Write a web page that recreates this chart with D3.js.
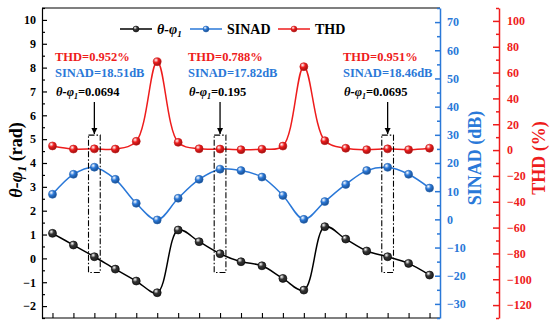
<!DOCTYPE html>
<head>
    <meta charset=utf-8>
    <title>theta-phi SINAD THD</title>
    <script src="https://d3js.org/d3.v7.min.js"></script>
    <style>
        body { margin: 0; background: #fff; }
        text { font-family: "Liberation Serif", "Times New Roman", serif; font-weight: bold; }
        .tick text { font-size: 12px; }
    </style>
</head>
<body>
    <div id="chart"></div>
    <script type="text/javascript">
        // data (index 0..18)
        var idx = d3.range(19);
        var phase = [1.05, 0.56, 0.0694, -0.45, -0.95, -1.44, 1.19, 0.70, 0.195, -0.14, -0.31, -0.84, -1.33, 1.33, 0.81, 0.31, 0.0695, -0.21, -0.70];
        var sinad = [8.9, 16.0, 18.51, 14.2, 5.7, -0.2, 7.5, 14.2, 17.82, 17.3, 15.0, 8.5, 0.0, 6.3, 12.4, 17.3, 18.46, 16.0, 11.1];
        var thd = [3.2, 0.8, 0.952, 0.8, 6.8, 68.4, 6.0, 1.0, 0.788, 0.3, 0.7, 3.1, 64.6, 7.3, 1.4, 0.3, 0.951, 0.3, 1.5];

        var leftTicks = d3.range(-2, 11, 1),
            sinadTicks = d3.range(-30, 71, 10),
            thdTicks = d3.range(-120, 101, 20);

        // highlighted points + their labels
        var marked = [2, 8, 16];
        var notes = [
            {thd: "THD=0.952%", sinad: "SINAD=18.51dB", ph: "=0.0694", x: 55},
            {thd: "THD=0.788%", sinad: "SINAD=17.82dB", ph: "=0.195", x: 188},
            {thd: "THD=0.951%", sinad: "SINAD=18.46dB", ph: "=0.0695", x: 343}
        ];

        var red = "#ee1c1c", blue = "#2a78d8";
        var W = 550, H = 326;
        var L = 42, R = 440, T = 8, B = 318;

        var x = d3.scaleLinear().domain([-0.5, 18.5]).range([L, R]),
            yL = d3.scaleLinear().domain([-2.5, 10.5]).range([B, T]),
            yS = d3.scaleLinear().domain([-35, 75]).range([B, T]),
            yT = d3.scaleLinear().domain([-130, 110]).range([B, T]);

        var svg = d3.select("#chart").append("svg")
            .attr("width", W).attr("height", H);

        var defs = svg.append("defs");
        function grad(id, c) {
            var g = defs.append("radialGradient").attr("id", id)
                .attr("cx", "35%").attr("cy", "30%").attr("r", "70%");
            g.append("stop").attr("offset", "0%").attr("stop-color", "#fff");
            g.append("stop").attr("offset", "45%").attr("stop-color", c);
            g.append("stop").attr("offset", "100%").attr("stop-color", d3.color(c).darker(1.2));
        }
        grad("gk", "#333");
        grad("gb", blue);
        grad("gr", red);
        defs.append("marker").attr("id", "arr")
            .attr("viewBox", "0 0 10 10").attr("refX", 10).attr("refY", 5)
            .attr("markerWidth", 6).attr("markerHeight", 7).attr("orient", "auto")
            .attr("markerUnits", "userSpaceOnUse")
            .append("path").attr("d", "M0,0L10,5L0,10z").attr("fill", "#000");

        // frame
        svg.append("line").attr("x1", L).attr("x2", R).attr("y1", T).attr("y2", T).attr("stroke", "#000").attr("stroke-width", 1.2);
        svg.append("line").attr("x1", L).attr("x2", R).attr("y1", B).attr("y2", B).attr("stroke", "#000").attr("stroke-width", 1.2);

        // x ticks (inward, no labels)
        svg.append("g").attr("transform", "translate(0," + B + ")")
            .call(d3.axisBottom(x).tickValues(idx).tickSize(-5).tickSizeOuter(0).tickFormat(""))
            .call(g => g.select(".domain").remove())
            .selectAll("line").attr("stroke-width", 1.1);

        // left axis
        var gl = svg.append("g").attr("transform", "translate(" + L + ",0)");
        gl.call(d3.axisLeft(yL).tickValues(leftTicks).tickSize(-5).tickSizeOuter(0).tickPadding(6));
        gl.append("g").call(d3.axisLeft(yL).tickValues(d3.range(-2.5, 10.6, 1)).tickSize(-3).tickFormat(""))
            .select(".domain").remove();
        gl.selectAll("path, line").attr("stroke", "#000").attr("stroke-width", 1.2);
        gl.selectAll("text").attr("fill", "#000");

        // SINAD axis
        var gs = svg.append("g").attr("transform", "translate(" + R + ",0)");
        gs.call(d3.axisRight(yS).tickValues(sinadTicks).tickSize(-5).tickSizeOuter(0).tickPadding(7));
        gs.append("g").call(d3.axisRight(yS).tickValues(d3.range(-35, 76, 10)).tickSize(-3).tickFormat(""))
            .select(".domain").remove();
        gs.selectAll("path, line").attr("stroke", blue).attr("stroke-width", 1.5);
        gs.selectAll("text").attr("fill", blue);

        // THD axis
        var gt = svg.append("g").attr("transform", "translate(499,0)");
        gt.call(d3.axisRight(yT).tickValues(thdTicks).tickSize(-6).tickSizeOuter(0).tickPadding(8));
        gt.append("g").call(d3.axisRight(yT).tickValues(d3.range(-130, 111, 20)).tickSize(-3).tickFormat(""))
            .select(".domain").remove();
        gt.selectAll("path, line").attr("stroke", red).attr("stroke-width", 1.5);
        gt.selectAll("text").attr("fill", red);

        // axis titles
        var tl = svg.append("text").attr("transform", "translate(22,160) rotate(-90)")
            .attr("text-anchor", "middle").attr("font-size", 18).attr("fill", "#000");
        tl.append("tspan").attr("font-style", "italic").text("\u03b8-\u03c6");
        tl.append("tspan").attr("font-style", "italic").attr("font-size", 12).attr("dy", 4).text("1");
        tl.append("tspan").attr("dy", -4).text(" (rad)");

        svg.append("text").attr("transform", "translate(481,158) rotate(-90)")
            .attr("text-anchor", "middle").attr("font-size", 18).attr("fill", blue).text("SINAD (dB)");
        svg.append("text").attr("transform", "translate(545,158) rotate(-90)")
            .attr("text-anchor", "middle").attr("font-size", 18).attr("fill", red).text("THD (%)");

        // series
        var series = [
            {v: thd, y: yT, c: red, g: "url(#gr)"},
            {v: sinad, y: yS, c: blue, g: "url(#gb)"},
            {v: phase, y: yL, c: "#000", g: "url(#gk)"}
        ];
        series.forEach(function (s) {
            var line = d3.line().x(i => x(i)).y(i => s.y(s.v[i])).curve(d3.curveCatmullRom.alpha(0.5));
            svg.append("path").attr("d", line(idx)).attr("fill", "none")
                .attr("stroke", s.c).attr("stroke-width", 1.5);
            svg.append("g").selectAll("circle").data(idx).enter().append("circle")
                .attr("cx", i => x(i)).attr("cy", i => s.y(s.v[i])).attr("r", 4)
                .attr("fill", s.g).attr("stroke", d3.color(s.c).darker(0.5)).attr("stroke-width", 0.6);
        });

        // boxes + arrows
        marked.forEach(function (m) {
            svg.append("rect")
                .attr("x", x(m - 0.28)).attr("width", x(m + 0.28) - x(m - 0.28))
                .attr("y", yL(5.17)).attr("height", yL(-0.59) - yL(5.17))
                .attr("fill", "none").attr("stroke", "#000").attr("stroke-width", 1.1)
                .attr("stroke-dasharray", "6,2,1.5,2");
            svg.append("line").attr("x1", x(m)).attr("x2", x(m))
                .attr("y1", 102).attr("y2", yL(5.17) - 1)
                .attr("stroke", "#000").attr("stroke-width", 1.3).attr("marker-end", "url(#arr)");
        });

        // annotation text
        notes.forEach(function (n) {
            svg.append("text").attr("x", n.x).attr("y", 60.5).attr("font-size", 12.5).attr("fill", red).text(n.thd);
            svg.append("text").attr("x", n.x).attr("y", 77).attr("font-size", 12.5).attr("fill", blue).text(n.sinad);
            var t = svg.append("text").attr("x", n.x + 1).attr("y", 96).attr("font-size", 12.5).attr("fill", "#000");
            t.append("tspan").attr("font-style", "italic").text("\u03b8-\u03c6");
            t.append("tspan").attr("font-style", "italic").attr("font-size", 8).attr("dy", 3).text("1");
            t.append("tspan").attr("dy", -3).text(n.ph);
        });

        // legend
        var leg = [
            {x: 120, c: "#000", g: "url(#gk)", label: null},
            {x: 190, c: blue, g: "url(#gb)", label: "SINAD"},
            {x: 278, c: red, g: "url(#gr)", label: "THD"}
        ];
        var ly = 29;
        leg.forEach(function (d) {
            svg.append("line").attr("x1", d.x).attr("x2", d.x + 32).attr("y1", ly).attr("y2", ly)
                .attr("stroke", d.c).attr("stroke-width", 1.5);
            svg.append("circle").attr("cx", d.x + 16).attr("cy", ly).attr("r", 3)
                .attr("fill", d.g).attr("stroke", d3.color(d.c).darker(0.5)).attr("stroke-width", 0.5);
            var t = svg.append("text").attr("x", d.x + 37).attr("y", ly + 5).attr("font-size", 14).attr("fill", "#000");
            if (d.label) {
                t.text(d.label);
            } else {
                t.append("tspan").attr("font-style", "italic").text("\u03b8-\u03c6");
                t.append("tspan").attr("font-style", "italic").attr("font-size", 9).attr("dy", 3).text("1");
            }
        });
    </script>
</body>
